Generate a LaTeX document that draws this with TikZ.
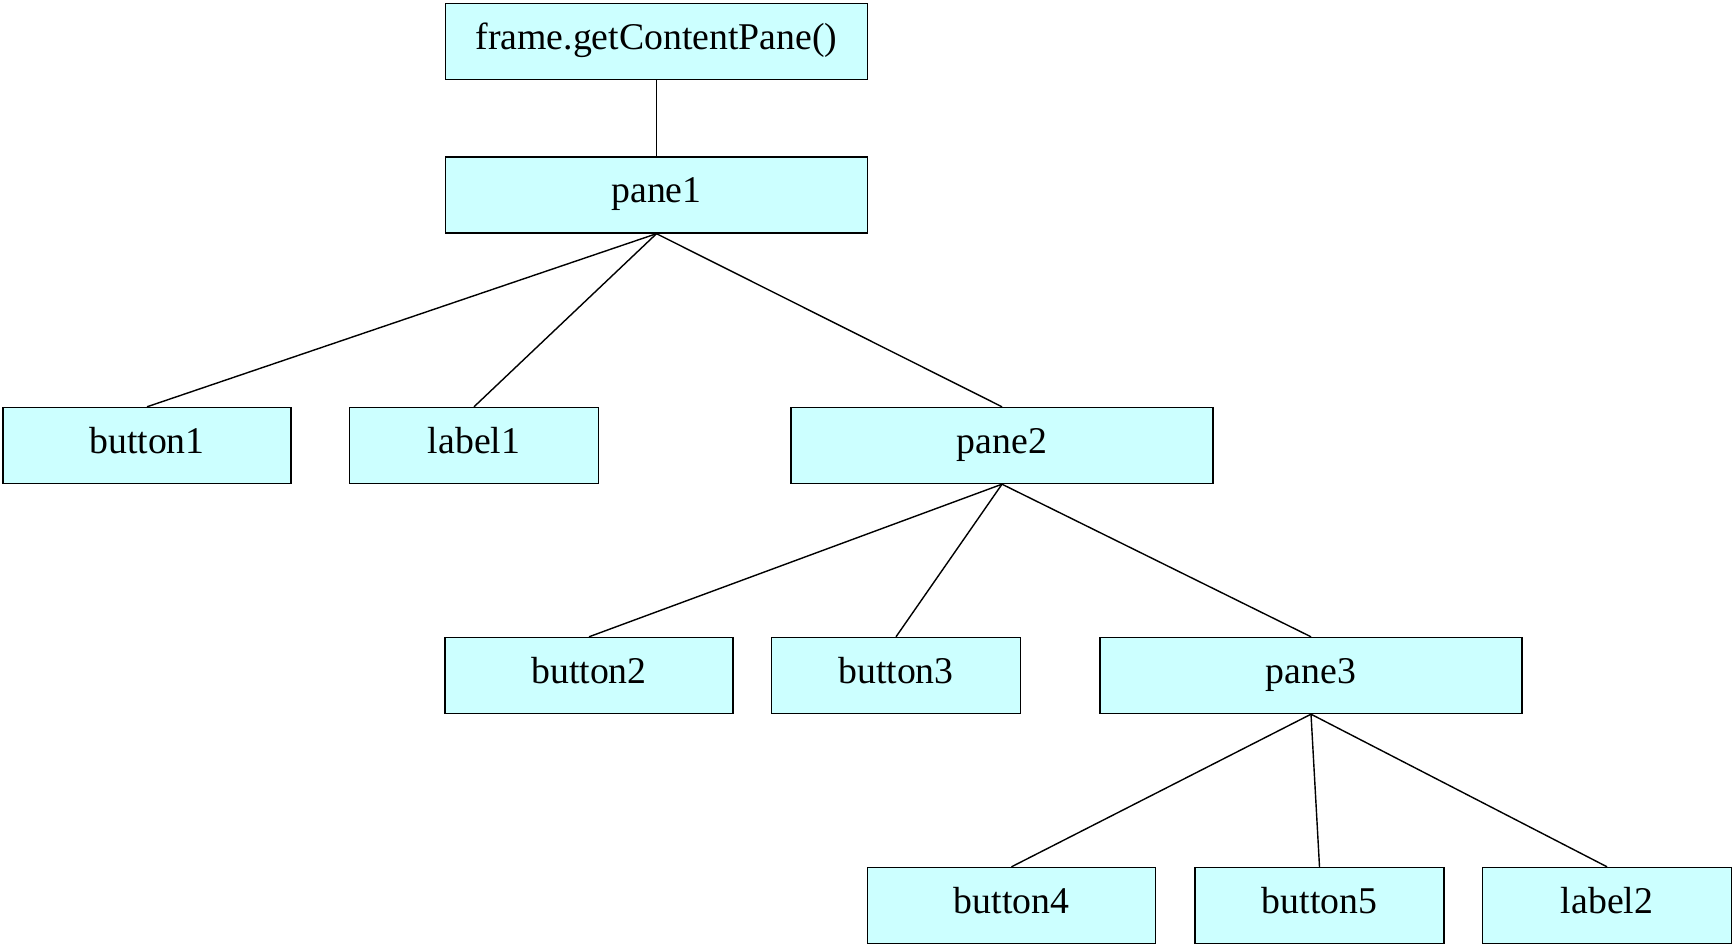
\documentclass[tikz,border=0pt]{standalone}
\usepackage{fontspec}
\setmainfont{Liberation Serif}
\definecolor{boxcyan}{RGB}{204,255,255}
\begin{document}
\begin{tikzpicture}[x=0.02cm,y=-0.02cm,
	box/.style={draw=black, fill=boxcyan, line width=0.8pt, minimum height=1.52cm, inner sep=0pt, text height=0.55cm, text depth=0.24cm, font=\fontsize{21.5}{25}\selectfont},
	wide/.style={box, minimum width=8.44cm},
	btn/.style={box, minimum width=5.76cm},
	slim/.style={box, minimum width=4.98cm},
	link/.style={draw=black, line width=0.8pt}]
	\useasboundingbox (0,0) rectangle (1733,945);
	
	%top of the tree
	\node[wide] (frame) at (656.5,41.5) {frame.getContentPane()};
	\node[wide] (pane1) at (656.5,195) {pane1};
	
	%children of pane1
	\node[btn]  (button1) at (147,445.5) {button1};
	\node[slim] (label1) at (474,445.5) {label1};
	\node[wide] (pane2) at (1002,445.5) {pane2};
	
	%children of pane2
	\node[btn]  (button2) at (589,675.5) {button2};
	\node[slim] (button3) at (896,675.5) {button3};
	\node[wide] (pane3) at (1311,675.5) {pane3};
	
	%children of pane3
	\node[btn]  (button4) at (1011.5,905.5) {button4};
	\node[slim] (button5) at (1319.5,905.5) {button5};
	\node[slim] (label2) at (1607,905.5) {label2};
	
	%links
	\draw[link] (frame.south) -- (pane1.north);
	\draw[link] (pane1.south) -- (button1.north);
	\draw[link] (pane1.south) -- (label1.north);
	\draw[link] (pane1.south) -- (pane2.north);
	\draw[link] (pane2.south) -- (button2.north);
	\draw[link] (pane2.south) -- (button3.north);
	\draw[link] (pane2.south) -- (pane3.north);
	\draw[link] (pane3.south) -- (button4.north);
	\draw[link] (pane3.south) -- (button5.north);
	\draw[link] (pane3.south) -- (label2.north);
\end{tikzpicture}
\end{document}
